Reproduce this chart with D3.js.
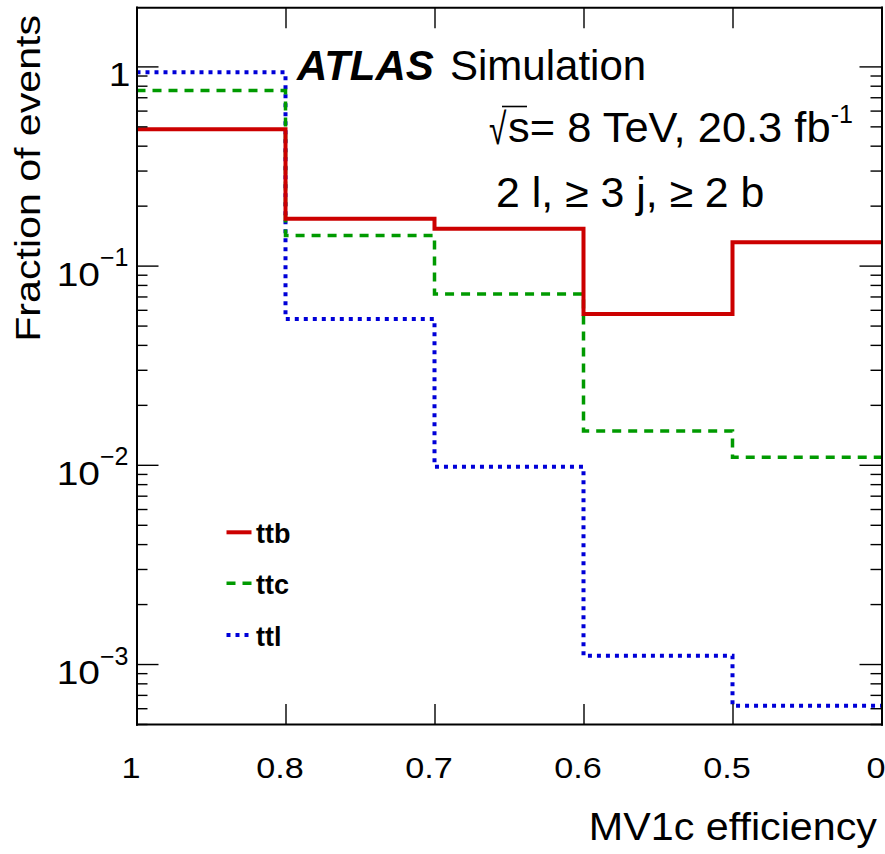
<!DOCTYPE html>
<html><head><meta charset="utf-8">
<script src="https://cdn.jsdelivr.net/npm/d3@7"></script>
<style>
html,body{margin:0;padding:0;background:#fff;}
svg{display:block;font-family:"Liberation Sans",Arial,Helvetica,sans-serif;}
</style></head><body>
<svg id="chart" width="885" height="854"></svg>
<script>
// ---- data ----
const binLabels = ["1", "0.8", "0.7", "0.6", "0.5", "0"];
const seriesNames = ["ttb", "ttc", "ttl"];
const ttb = [0.484, 0.172, 0.153, 0.0571, 0.131];
const ttc = [0.756, 0.1416, 0.072, 0.0148, 0.0109];
const ttl = [0.935, 0.054, 0.00978, 0.0011, 0.000618];
const yMajorExponents = [0, -1, -2, -3];
const yDomain = [5.0e-4, 1.98];
const xTitle = "MV1c efficiency";
const yTitle = "Fraction of events";

// ---- setup ----
const svg = d3.select("#chart");
const x = d3.scaleLinear().domain([0, binLabels.length - 1]).range([136.5, 881.5]);
const y = d3.scaleLog().domain(yDomain).range([724, 7.3]);

const major = yMajorExponents.map(e => Math.pow(10, e));
const minor = [];
for (let e = -4; e <= 0; e++) for (let m = 2; m <= 9; m++) {
  const v = m * Math.pow(10, e);
  if (v >= yDomain[0] && v <= yDomain[1]) minor.push(v);
}

function styleAxis(g) {
  g.selectAll(".domain").attr("stroke", "#000").attr("stroke-width", 2).attr("stroke-linecap", "square");
  g.selectAll(".tick line").attr("stroke", "#000").attr("stroke-width", 1.4);
}

// ---- series ----
const line = d3.line().x(d => x(d[0])).y(d => y(d[1])).curve(d3.curveStepAfter);
function pts(vals) { const p = vals.map((v, i) => [i, v]); p.push([vals.length, vals[vals.length - 1]]); return p; }
const styles = {
  ttb: {color: "#cc0000", width: 4, dash: null},
  ttc: {color: "#009a00", width: 3.5, dash: "9,7"},
  ttl: {color: "#0000d8", width: 4, dash: "4,5"}
};
const seriesData = {ttb, ttc, ttl};
["ttl", "ttc", "ttb"].forEach(name => {
  const s = styles[name];
  svg.append("path").datum(pts(seriesData[name])).attr("d", line)
    .attr("fill", "none").attr("stroke", s.color).attr("stroke-width", s.width)
    .attr("stroke-dasharray", s.dash);
});

// ---- axes ----
const gLeftMinor = svg.append("g").attr("transform", "translate(136.5,0)")
  .call(d3.axisLeft(y).tickValues(minor).tickSize(-11).tickSizeOuter(0).tickFormat(""));
const gLeft = svg.append("g").attr("transform", "translate(136.5,0)")
  .call(d3.axisLeft(y).tickValues(major).tickSize(-22).tickSizeOuter(0).tickFormat(""));
const gRightMinor = svg.append("g").attr("transform", "translate(881.5,0)")
  .call(d3.axisRight(y).tickValues(minor).tickSize(-11).tickSizeOuter(0).tickFormat(""));
const gRight = svg.append("g").attr("transform", "translate(881.5,0)")
  .call(d3.axisRight(y).tickValues(major).tickSize(-22).tickSizeOuter(0).tickFormat(""));
const gTop = svg.append("g").attr("transform", "translate(0,7.3)")
  .call(d3.axisTop(x).tickValues(d3.range(binLabels.length)).tickSize(-21).tickSizeOuter(0).tickFormat(""));
const gBottom = svg.append("g").attr("transform", "translate(0,724)")
  .call(d3.axisBottom(x).tickValues(d3.range(binLabels.length)).tickSize(-20).tickSizeOuter(0)
    .tickFormat((d, i) => binLabels[i]));
[gLeftMinor, gLeft, gRightMinor, gRight, gTop, gBottom].forEach(styleAxis);

// bottom tick labels
gBottom.selectAll(".tick text")
  .attr("y", null).attr("dy", null)
  .attr("transform", "translate(-6,53.5) scale(1.14,1)")
  .attr("font-size", 30).attr("font-family", "Liberation Sans, Arial, sans-serif")
  .attr("fill", "#000").attr("text-anchor", "middle");

// left tick labels (10^n)
gLeft.selectAll(".tick").each(function(d) {
  const g = d3.select(this);
  g.selectAll("text").remove();
  const e = Math.round(Math.log10(d));
  if (e === 0) {
    g.append("text").attr("transform", "translate(-6,19) scale(1.18,1)")
      .attr("text-anchor", "end").attr("font-size", 33).attr("fill", "#000")
      .attr("font-family", "Liberation Sans, Arial, sans-serif").text("1");
  } else {
    g.append("text").attr("transform", "translate(-36.5,19.5) scale(1.18,1)")
      .attr("text-anchor", "end").attr("font-size", 33).attr("fill", "#000")
      .attr("font-family", "Liberation Sans, Arial, sans-serif").text("10");
    g.append("text").attr("transform", "translate(-36.5,0)")
      .attr("text-anchor", "start").attr("font-size", 25).attr("fill", "#000")
      .attr("font-family", "Liberation Sans, Arial, sans-serif").text("\u2212" + (-e));
  }
});

// ---- titles ----
function label(opts) {
  const {x, y, text, size, anchor = "start", sx = 1, weight = "normal", style = "normal", rotate = 0} = opts;
  return svg.append("text")
    .attr("transform", `translate(${x},${y})${rotate ? ` rotate(${rotate})` : ""} scale(${sx},1)`)
    .attr("text-anchor", anchor).attr("font-size", size).attr("font-weight", weight)
    .attr("font-style", style).attr("fill", "#000").text(text);
}
label({x: 877, y: 840, text: xTitle, size: 38, anchor: "end", sx: 1.086});
label({x: 40, y: 15, text: yTitle, size: 35, anchor: "end", sx: 1.175, rotate: -90});

// ATLAS block
label({x: 297, y: 80, text: "ATLAS", size: 42, weight: "bold", style: "italic"});
label({x: 450, y: 80, text: "Simulation", size: 42});
// sqrt(s) line
label({x: 489, y: 144, text: "\u221A", size: 44, sx: 0.72});
svg.append("line").attr("x1", 502).attr("x2", 527).attr("y1", 106.5).attr("y2", 106.5)
  .attr("stroke", "#000").attr("stroke-width", 1.6);
const lumi = label({x: 508, y: 142, text: "s= 8 TeV, 20.3 fb", size: 42, sx: 1.035});
const lumiEnd = 508 + lumi.node().getComputedTextLength() * 1.035;
label({x: lumiEnd, y: 123, text: "-1", size: 25});
label({x: 496, y: 206.5, text: "2 l, \u2265 3 j, \u2265 2 b", size: 42, sx: 1.02});

// ---- legend ----
const legendY = [532.3, 583.3, 635];
seriesNames.forEach((name, i) => {
  const s = styles[name];
  svg.append("line").attr("x1", 226.5).attr("x2", 251.5).attr("y1", legendY[i]).attr("y2", legendY[i])
    .attr("stroke", s.color).attr("stroke-width", s.width).attr("stroke-dasharray", s.dash);
  label({x: 256, y: legendY[i] + 11, text: name, size: 27, weight: "bold"});
});
</script>
</body></html>
